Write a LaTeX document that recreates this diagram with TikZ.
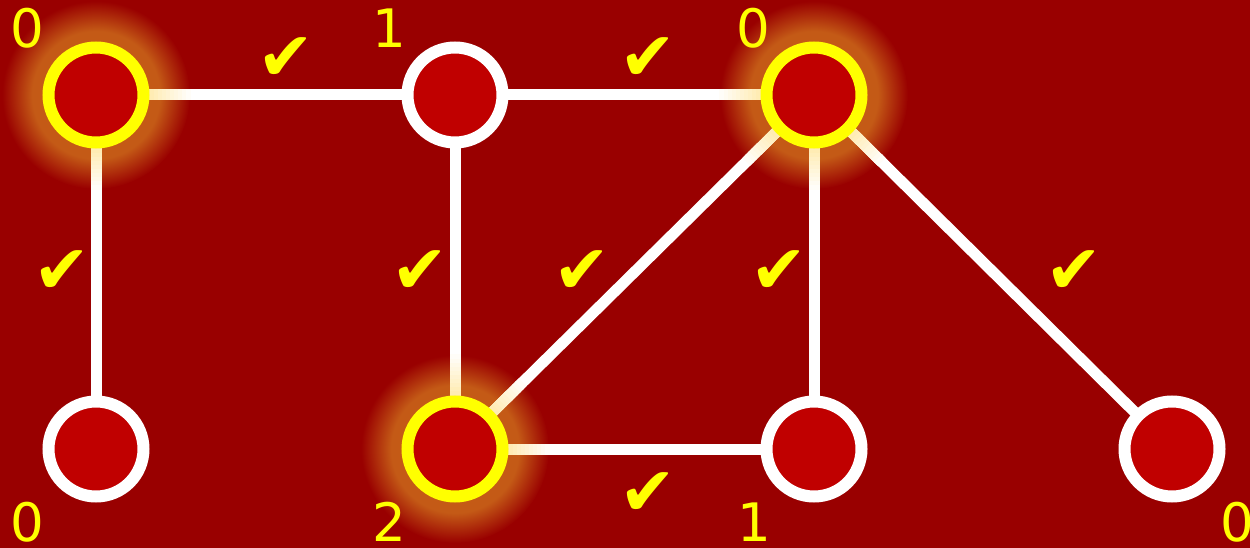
\documentclass[tikz,border=0pt]{standalone}
\usepackage{fontspec}
\setmainfont{DejaVu Sans}
\usetikzlibrary{calc}
\definecolor{bg}{RGB}{153,0,0}
\definecolor{nodefill}{RGB}{192,0,0}
\definecolor{glowc}{RGB}{196,90,22}
\definecolor{cream}{RGB}{255,232,165}
\definecolor{hly}{RGB}{255,255,0}
\pgfdeclareradialshading{glow}{\pgfpoint{0bp}{0bp}}{color(0bp)=(glowc); color(17bp)=(glowc); color(25bp)=(bg); color(50bp)=(bg)}
\newcommand\fadeend[2]{%
  \foreach \i in {0,...,11}{%
    \pgfmathtruncatemacro\pct{100-100*\i/12}%
    \pgfmathsetmacro\da{46+4*\i}%
    \pgfmathsetmacro\db{46+4*\i+5}%
    \draw[edge, draw=cream!\pct!white] ($(#1)!\da pt!(#2)$) -- ($(#1)!\db pt!(#2)$);
  }%
}
\begin{document}
\begin{tikzpicture}[x=1pt,y=-1pt,
  vertex/.style={circle, draw=white, fill=nodefill, line width=12pt, minimum size=95pt, inner sep=0pt},
  hot/.style={vertex, draw=hly},
  edge/.style={draw=white, line width=11pt, line cap=butt},
  lbl/.style={text=hly, font=\fontsize{53}{60}\selectfont, inner sep=0pt},
  tick/.style={text=hly, font=\fontsize{68}{70}\selectfont, inner sep=0pt}]
\fill[bg] (0,0) rectangle (1250,548);
\useasboundingbox (0,0) rectangle (1250,548);
% coordinates of nodes
\coordinate (pA) at (96,95);
\coordinate (pB) at (455,95);
\coordinate (pC) at (814,95);
\coordinate (pD) at (96,449);
\coordinate (pE) at (455,449);
\coordinate (pF) at (814,449);
\coordinate (pG) at (1172,449);
% glows
\shade[shading=glow] (pA) circle (94);
\shade[shading=glow] (pC) circle (94);
\shade[shading=glow] (pE) circle (94);
% edges
\draw[edge] (pA) -- (pB);
\draw[edge] (pA) -- (pD);
\draw[edge] (pB) -- (pC);
\draw[edge] (pB) -- (pE);
\draw[edge] (pC) -- (pE);
\draw[edge] (pC) -- (pF);
\draw[edge] (pC) -- (pG);
\draw[edge] (pE) -- (pF);
\fadeend{pA}{pB}
\fadeend{pA}{pD}
\fadeend{pC}{pB}
\fadeend{pC}{pE}
\fadeend{pC}{pF}
\fadeend{pC}{pG}
\fadeend{pE}{pB}
\fadeend{pE}{pC}
\fadeend{pE}{pF}
% nodes
\node[hot] (A) at (pA) {};
\node[vertex] (B) at (pB) {};
\node[hot] (C) at (pC) {};
\node[vertex] (D) at (pD) {};
\node[hot] (E) at (pE) {};
\node[vertex] (F) at (pF) {};
\node[vertex] (G) at (pG) {};
% labels
\node[lbl] (lA) at (27,28) {0};
\node[lbl] (lB) at (389,28) {1};
\node[lbl] (lC) at (753,28) {0};
\node[lbl] (lD) at (27,522) {0};
\node[lbl] (lE) at (389,522) {2};
\node[lbl] (lF) at (754,522) {1};
\node[lbl] (lG) at (1237,522) {0};
% ticks
\node[tick] (t1) at (286,59) {✔};
\node[tick] (t2) at (648,59) {✔};
\node[tick] (t3) at (62,272) {✔};
\node[tick] (t4) at (420,272) {✔};
\node[tick] (t5) at (582,272) {✔};
\node[tick] (t6) at (779,272) {✔};
\node[tick] (t7) at (1074,272) {✔};
\node[tick] (t8) at (648,494) {✔};
\end{tikzpicture}
\end{document}
